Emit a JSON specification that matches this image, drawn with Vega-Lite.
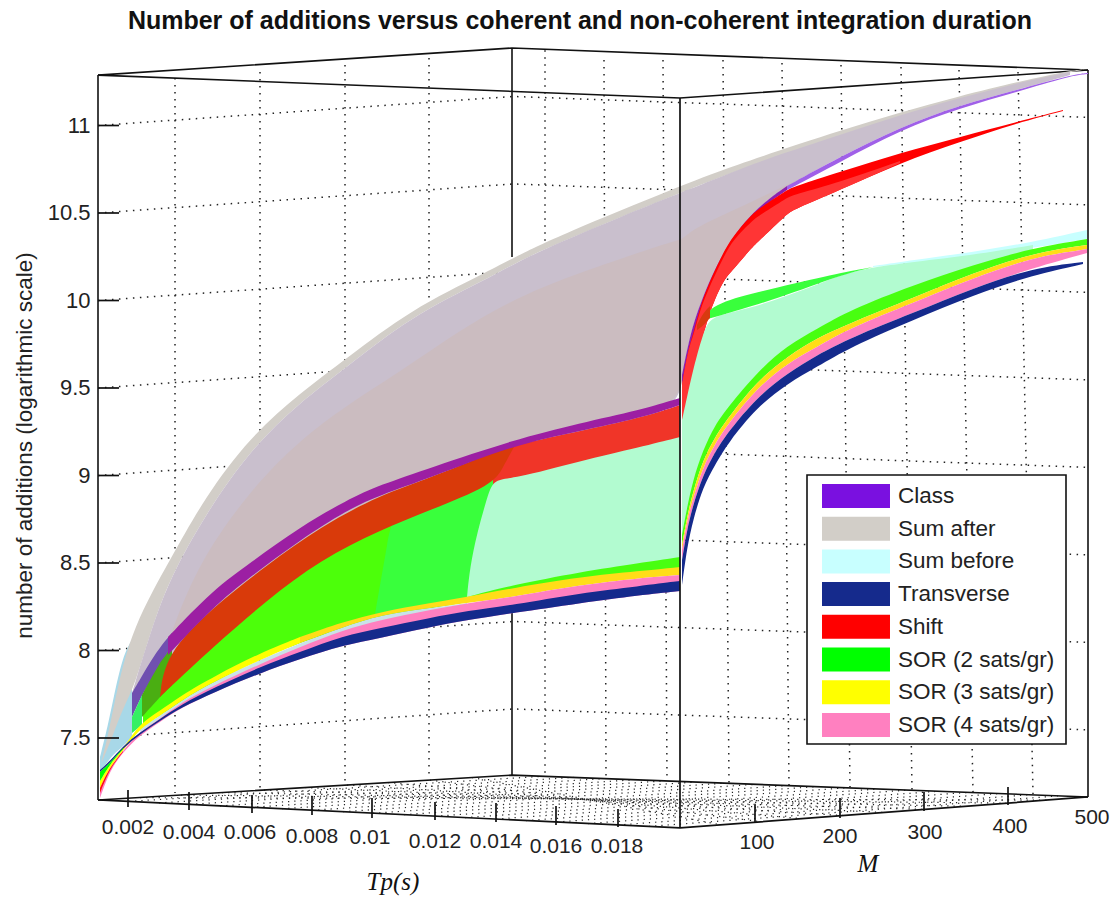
{"$schema":"https://vega.github.io/schema/vega-lite/v6.json","width":1114,"height":897,"autosize":"none","padding":0,"background":"white","config":{"view":{"stroke":null}},
"title":{"text":"Number of additions versus coherent and non-coherent integration duration","font":"Liberation Sans","fontSize":25,"fontWeight":"bold","color":"#111","anchor":"middle","frame":"group","offset":-34,"dx":23},
"datasets":{
"walls":[
{"id":"h7.5","x":98,"y":7.5},{"id":"h7.5","x":513,"y":7.666},{"id":"h7.5","x":1088,"y":7.546},
{"id":"h8","x":98,"y":8},{"id":"h8","x":513,"y":8.166},{"id":"h8","x":1088,"y":8.046},
{"id":"h8.5","x":98,"y":8.5},{"id":"h8.5","x":513,"y":8.666},{"id":"h8.5","x":1088,"y":8.546},
{"id":"h9","x":98,"y":9},{"id":"h9","x":513,"y":9.166},{"id":"h9","x":1088,"y":9.046},
{"id":"h9.5","x":98,"y":9.5},{"id":"h9.5","x":513,"y":9.666},{"id":"h9.5","x":1088,"y":9.546},
{"id":"h10","x":98,"y":10},{"id":"h10","x":513,"y":10.166},{"id":"h10","x":1088,"y":10.046},
{"id":"h10.5","x":98,"y":10.5},{"id":"h10.5","x":513,"y":10.666},{"id":"h10.5","x":1088,"y":10.546},
{"id":"h11","x":98,"y":11},{"id":"h11","x":513,"y":11.166},{"id":"h11","x":1088,"y":11.046},
{"id":"v1","x":175,"y":11.271},{"id":"v1","x":175,"y":7.185},{"id":"v2","x":260,"y":11.306},{"id":"v2","x":260,"y":7.203},{"id":"v3","x":345,"y":11.346},{"id":"v3","x":345,"y":7.243},{"id":"v4","x":429,"y":11.386},{"id":"v4","x":429,"y":7.283},
{"id":"v5","x":545,"y":11.43},{"id":"v5","x":545,"y":7.288},{"id":"v6","x":604,"y":11.374},{"id":"v6","x":606,"y":7.271},{"id":"v7","x":663,"y":11.374},{"id":"v7","x":667,"y":7.26},{"id":"v8","x":723,"y":11.374},{"id":"v8","x":729,"y":7.243},{"id":"v9","x":782,"y":11.357},{"id":"v9","x":789,"y":7.231},{"id":"v10","x":841,"y":11.346},{"id":"v10","x":850,"y":7.22},{"id":"v11","x":901,"y":11.334},{"id":"v11","x":912,"y":7.203},{"id":"v12","x":959,"y":11.317},{"id":"v12","x":973,"y":7.191},{"id":"v13","x":1018,"y":11.306},{"id":"v13","x":1033,"y":7.18}],
"floor":[
{"id":"t1","x":129,"y":7.138},{"id":"t1","x":543,"y":7.281},{"id":"t2","x":159,"y":7.129},{"id":"t2","x":574,"y":7.275},{"id":"t3","x":190,"y":7.121},{"id":"t3","x":604,"y":7.268},{"id":"t4","x":220,"y":7.112},{"id":"t4","x":634,"y":7.261},{"id":"t5","x":251,"y":7.104},{"id":"t5","x":665,"y":7.255},{"id":"t6","x":282,"y":7.096},{"id":"t6","x":695,"y":7.248},{"id":"t7","x":312,"y":7.087},{"id":"t7","x":725,"y":7.242},{"id":"t8","x":343,"y":7.079},{"id":"t8","x":755,"y":7.235},{"id":"t9","x":373,"y":7.07},{"id":"t9","x":786,"y":7.228},{"id":"t10","x":404,"y":7.062},{"id":"t10","x":816,"y":7.222},{"id":"t11","x":435,"y":7.053},{"id":"t11","x":846,"y":7.215},{"id":"t12","x":465,"y":7.045},{"id":"t12","x":877,"y":7.208},{"id":"t13","x":496,"y":7.037},{"id":"t13","x":907,"y":7.202},{"id":"t14","x":526,"y":7.028},{"id":"t14","x":937,"y":7.195},{"id":"t15","x":557,"y":7.02},{"id":"t15","x":968,"y":7.189},{"id":"t16","x":588,"y":7.011},{"id":"t16","x":998,"y":7.182},{"id":"t17","x":618,"y":7.003},{"id":"t17","x":1028,"y":7.175},{"id":"t18","x":649,"y":6.995},{"id":"t18","x":1058,"y":7.169},
{"id":"m2","x":721,"y":7.004},{"id":"m2","x":472,"y":7.274},{"id":"m4","x":762,"y":7.021},{"id":"m4","x":430,"y":7.259},{"id":"m6","x":802,"y":7.039},{"id":"m6","x":388,"y":7.245},{"id":"m8","x":843,"y":7.057},{"id":"m8","x":347,"y":7.231},{"id":"m10","x":884,"y":7.075},{"id":"m10","x":305,"y":7.217},{"id":"m12","x":925,"y":7.092},{"id":"m12","x":264,"y":7.202},{"id":"m14","x":966,"y":7.11},{"id":"m14","x":222,"y":7.188},{"id":"m16","x":1006,"y":7.128},{"id":"m16","x":181,"y":7.174},{"id":"m18","x":1047,"y":7.145},{"id":"m18","x":140,"y":7.159}],
"frameBack":[
{"id":"tf","x":98,"y":11.288},{"id":"tf","x":680,"y":11.157},{"id":"tf","x":1088,"y":11.317},
{"id":"tb","x":98,"y":11.288},{"id":"tb","x":512,"y":11.443},{"id":"tb","x":1088,"y":11.317},
{"id":"fb","x":98,"y":7.146},{"id":"fb","x":512,"y":7.288},{"id":"fb","x":1088,"y":7.163},
{"id":"l98","x":98,"y":11.288},{"id":"l98","x":98,"y":7.146},
{"id":"b1","x":512,"y":11.443},{"id":"b1","x":512,"y":10.248},{"id":"b2","x":512,"y":8.214},{"id":"b2","x":512,"y":7.288},
{"id":"r","x":1088,"y":11.317},{"id":"r","x":1088,"y":7.163}],
"frameFront":[
{"id":"ff","x":98,"y":7.146},{"id":"ff","x":680,"y":6.986},{"id":"ff","x":1088,"y":7.163},
{"id":"c","x":680,"y":11.157},{"id":"c","x":680,"y":6.986},
{"id":"y7.5","x":98,"y":7.5},{"id":"y7.5","x":119,"y":7.5},{"id":"y8","x":98,"y":8},{"id":"y8","x":119,"y":8},{"id":"y8.5","x":98,"y":8.5},{"id":"y8.5","x":119,"y":8.5},{"id":"y9","x":98,"y":9},{"id":"y9","x":119,"y":9},{"id":"y9.5","x":98,"y":9.5},{"id":"y9.5","x":119,"y":9.5},{"id":"y10","x":98,"y":10},{"id":"y10","x":119,"y":10},{"id":"y10.5","x":98,"y":10.5},{"id":"y10.5","x":119,"y":10.5},{"id":"y11","x":98,"y":11},{"id":"y11","x":119,"y":11},
{"id":"k1","x":128,"y":7.203},{"id":"k1","x":128,"y":7.105},{"id":"k2","x":189,"y":7.191},{"id":"k2","x":189,"y":7.088},{"id":"k3","x":252,"y":7.174},{"id":"k3","x":252,"y":7.071},{"id":"k4","x":312,"y":7.168},{"id":"k4","x":312,"y":7.06},{"id":"k5","x":372,"y":7.157},{"id":"k5","x":372,"y":7.043},{"id":"k6","x":435,"y":7.134},{"id":"k6","x":435,"y":7.031},{"id":"k7","x":496,"y":7.128},{"id":"k7","x":496,"y":7.02},{"id":"k8","x":556,"y":7.111},{"id":"k8","x":556,"y":7.003},{"id":"k9","x":618,"y":7.094},{"id":"k9","x":618,"y":6.991},
{"id":"k10","x":755,"y":7.117},{"id":"k10","x":755,"y":7.014},{"id":"k11","x":840,"y":7.157},{"id":"k11","x":840,"y":7.043},{"id":"k12","x":924,"y":7.191},{"id":"k12","x":924,"y":7.083},{"id":"k13","x":1008,"y":7.22},{"id":"k13","x":1008,"y":7.117}],
"bands":[
{"b":"Sum before (edge)","x":100,"y":7.391,"y2":7.306},{"b":"Sum before (edge)","x":108,"y":7.574,"y2":7.368},{"b":"Sum before (edge)","x":113,"y":7.717,"y2":7.403},{"b":"Sum before (edge)","x":123,"y":7.974,"y2":7.454},{"b":"Sum before (edge)","x":132,"y":8.06,"y2":7.5},
{"b":"Sum after","x":102,"y":7.374,"y2":7.363},{"b":"Sum after","x":108,"y":7.517,"y2":7.448},{"b":"Sum after","x":113,"y":7.66,"y2":7.517},{"b":"Sum after","x":123,"y":7.928,"y2":7.671},{"b":"Sum after","x":135,"y":8.134,"y2":7.803},{"b":"Sum after","x":152,"y":8.334,"y2":8.134},{"b":"Sum after","x":170,"y":8.517,"y2":8.414},{"b":"Sum after","x":205,"y":8.877,"y2":8.774},{"b":"Sum after","x":250,"y":9.22,"y2":9.146},{"b":"Sum after","x":300,"y":9.471,"y2":9.42},{"b":"Sum after","x":347,"y":9.671,"y2":9.62},{"b":"Sum after","x":410,"y":9.946,"y2":9.906},{"b":"Sum after","x":487,"y":10.163,"y2":10.123},{"b":"Sum after","x":513,"y":10.243,"y2":10.208},{"b":"Sum after","x":560,"y":10.374,"y2":10.334},{"b":"Sum after","x":680,"y":10.654,"y2":10.614},{"b":"Sum after","x":727,"y":10.757,"y2":10.723},{"b":"Sum after","x":840,"y":10.974,"y2":10.946},{"b":"Sum after","x":960,"y":11.174,"y2":11.157},{"b":"Sum after","x":1070,"y":11.317,"y2":11.306},{"b":"Sum after","x":1088,"y":11.323,"y2":11.323},
{"b":"Sum after (lilac)","x":132,"y":7.757,"y2":7.757},{"b":"Sum after (lilac)","x":152,"y":8.134,"y2":7.85},{"b":"Sum after (lilac)","x":170,"y":8.414,"y2":7.95},{"b":"Sum after (lilac)","x":205,"y":8.774,"y2":8.2},{"b":"Sum after (lilac)","x":250,"y":9.146,"y2":8.4},{"b":"Sum after (lilac)","x":300,"y":9.42,"y2":8.606},{"b":"Sum after (lilac)","x":347,"y":9.62,"y2":8.76},{"b":"Sum after (lilac)","x":410,"y":9.906,"y2":8.914},{"b":"Sum after (lilac)","x":487,"y":10.123,"y2":9.057},{"b":"Sum after (lilac)","x":513,"y":10.208,"y2":9.103},{"b":"Sum after (lilac)","x":560,"y":10.334,"y2":9.177},{"b":"Sum after (lilac)","x":620,"y":10.477,"y2":9.257},{"b":"Sum after (lilac)","x":680,"y":10.614,"y2":9.4},{"b":"Sum after (lilac)","x":682,"y":10.62,"y2":9.574},{"b":"Sum after (lilac)","x":690,"y":10.637,"y2":9.803},{"b":"Sum after (lilac)","x":700,"y":10.66,"y2":9.986},{"b":"Sum after (lilac)","x":723,"y":10.711,"y2":10.288},{"b":"Sum after (lilac)","x":753,"y":10.78,"y2":10.517},{"b":"Sum after (lilac)","x":787,"y":10.848,"y2":10.654},{"b":"Sum after (lilac)","x":840,"y":10.946,"y2":10.82},{"b":"Sum after (lilac)","x":900,"y":11.06,"y2":10.991},{"b":"Sum after (lilac)","x":960,"y":11.157,"y2":11.117},{"b":"Sum after (lilac)","x":1017,"y":11.243,"y2":11.203},{"b":"Sum after (lilac)","x":1070,"y":11.306,"y2":11.288},
{"b":"Sum after (rose)","x":170,"y":8.077,"y2":8.077},{"b":"Sum after (rose)","x":197,"y":8.488,"y2":8.154},{"b":"Sum after (rose)","x":250,"y":8.917,"y2":8.4},{"b":"Sum after (rose)","x":300,"y":9.203,"y2":8.606},{"b":"Sum after (rose)","x":347,"y":9.403,"y2":8.76},{"b":"Sum after (rose)","x":403,"y":9.603,"y2":8.903},{"b":"Sum after (rose)","x":493,"y":9.963,"y2":9.068},{"b":"Sum after (rose)","x":580,"y":10.163,"y2":9.2},{"b":"Sum after (rose)","x":680,"y":10.351,"y2":9.4},{"b":"Sum after (rose)","x":682,"y":10.351,"y2":9.574},{"b":"Sum after (rose)","x":690,"y":10.391,"y2":9.803},{"b":"Sum after (rose)","x":700,"y":10.426,"y2":9.986},{"b":"Sum after (rose)","x":723,"y":10.488,"y2":10.288},{"b":"Sum after (rose)","x":753,"y":10.568,"y2":10.517},{"b":"Sum after (rose)","x":787,"y":10.66,"y2":10.654},{"b":"Sum after (rose)","x":800,"y":10.7,"y2":10.7},
{"b":"Class over Sum","x":132,"y":7.757,"y2":7.62},{"b":"Class over Sum","x":142,"y":7.854,"y2":7.746},{"b":"Class over Sum","x":150,"y":7.934,"y2":7.82},{"b":"Class over Sum","x":163,"y":8.043,"y2":7.946},{"b":"Class over Sum","x":172,"y":8.1,"y2":8.0},
{"b":"SOR 2 over Sum","x":132,"y":7.62,"y2":7.528},{"b":"SOR 2 over Sum","x":142,"y":7.746,"y2":7.574},
{"b":"Shift over Sum","x":493,"y":9.134,"y2":8.9},{"b":"Shift over Sum","x":503,"y":9.157,"y2":8.913},{"b":"Shift over Sum","x":515,"y":9.174,"y2":8.93},{"b":"Shift over Sum","x":580,"y":9.254,"y2":9.033},{"b":"Shift over Sum","x":640,"y":9.328,"y2":9.113},{"b":"Shift over Sum","x":680,"y":9.403,"y2":9.17},
{"b":"SOR 2 main","x":143,"y":7.67,"y2":7.567},{"b":"SOR 2 main","x":165,"y":7.824,"y2":7.647},{"b":"SOR 2 main","x":213,"y":8.07,"y2":7.818},{"b":"SOR 2 main","x":267,"y":8.338,"y2":7.973},{"b":"SOR 2 main","x":320,"y":8.567,"y2":8.087},{"b":"SOR 2 main","x":393,"y":8.767,"y2":8.201},
{"b":"SOR 2 dark","x":142,"y":7.746,"y2":7.62},{"b":"SOR 2 dark","x":160,"y":7.934,"y2":7.734},{"b":"SOR 2 dark","x":165,"y":7.963,"y2":7.763},{"b":"SOR 2 dark","x":172,"y":8.03,"y2":7.8},
{"b":"SOR 2 light","x":375,"y":8.208,"y2":8.208},{"b":"SOR 2 light","x":380,"y":8.374,"y2":8.19},{"b":"SOR 2 light","x":387,"y":8.6,"y2":8.196},{"b":"SOR 2 light","x":393,"y":8.8,"y2":8.2},{"b":"SOR 2 light","x":430,"y":8.86,"y2":8.241},{"b":"SOR 2 light","x":467,"y":8.92,"y2":8.276},{"b":"SOR 2 light","x":493,"y":8.98,"y2":8.298},
{"b":"Sum before mint","x":467,"y":8.306,"y2":8.306},{"b":"Sum before mint","x":470,"y":8.477,"y2":8.281},{"b":"Sum before mint","x":477,"y":8.671,"y2":8.293},{"b":"Sum before mint","x":487,"y":8.87,"y2":8.31},{"b":"Sum before mint","x":493,"y":8.98,"y2":8.316},{"b":"Sum before mint","x":513,"y":8.98,"y2":8.344},{"b":"Sum before mint","x":580,"y":9.083,"y2":8.418},{"b":"Sum before mint","x":640,"y":9.163,"y2":8.47},{"b":"Sum before mint","x":680,"y":9.22,"y2":8.504},
{"b":"Shift over SOR","x":160,"y":7.734,"y2":7.734},{"b":"Shift over SOR","x":165,"y":7.974,"y2":7.763},{"b":"Shift over SOR","x":213,"y":8.248,"y2":8.02},{"b":"Shift over SOR","x":267,"y":8.488,"y2":8.288},{"b":"Shift over SOR","x":320,"y":8.706,"y2":8.517},{"b":"Shift over SOR","x":380,"y":8.888,"y2":8.688},{"b":"Shift over SOR","x":430,"y":8.986,"y2":8.803},{"b":"Shift over SOR","x":493,"y":9.134,"y2":8.946},{"b":"Shift over SOR","x":503,"y":9.157,"y2":9.048},{"b":"Shift over SOR","x":515,"y":9.174,"y2":9.174},
{"b":"Class (Tp face)","x":168,"y":8.077,"y2":7.974},{"b":"Class (Tp face)","x":213,"y":8.346,"y2":8.248},{"b":"Class (Tp face)","x":250,"y":8.5,"y2":8.42},{"b":"Class (Tp face)","x":300,"y":8.706,"y2":8.631},{"b":"Class (Tp face)","x":347,"y":8.86,"y2":8.803},{"b":"Class (Tp face)","x":380,"y":8.946,"y2":8.888},{"b":"Class (Tp face)","x":430,"y":9.043,"y2":8.986},{"b":"Class (Tp face)","x":513,"y":9.203,"y2":9.174},{"b":"Class (Tp face)","x":580,"y":9.3,"y2":9.254},{"b":"Class (Tp face)","x":640,"y":9.374,"y2":9.328},{"b":"Class (Tp face)","x":680,"y":9.443,"y2":9.403},
{"b":"SOR 2 sliver","x":467,"y":8.306,"y2":8.306},{"b":"SOR 2 sliver","x":513,"y":8.374,"y2":8.337},{"b":"SOR 2 sliver","x":580,"y":8.448,"y2":8.4},{"b":"SOR 2 sliver","x":640,"y":8.5,"y2":8.434},{"b":"SOR 2 sliver","x":680,"y":8.534,"y2":8.457},
{"b":"Pale","x":140,"y":7.557,"y2":7.534},{"b":"Pale","x":160,"y":7.626,"y2":7.608},{"b":"Pale","x":180,"y":7.711,"y2":7.688},{"b":"Pale","x":215,"y":7.826,"y2":7.791},{"b":"Pale","x":260,"y":7.946,"y2":7.906},{"b":"Pale","x":300,"y":8.043,"y2":7.991},{"b":"Pale","x":343,"y":8.134,"y2":8.083},{"b":"Pale","x":380,"y":8.203,"y2":8.128},{"b":"Pale","x":430,"y":8.243,"y2":8.186},{"b":"Pale","x":467,"y":8.271,"y2":8.226},
{"b":"SOR (3 sats/gr)","x":100,"y":7.254,"y2":7.214},{"b":"SOR (3 sats/gr)","x":110,"y":7.351,"y2":7.334},{"b":"SOR (3 sats/gr)","x":123,"y":7.437,"y2":7.426},{"b":"SOR (3 sats/gr)","x":140,"y":7.586,"y2":7.557},{"b":"SOR (3 sats/gr)","x":160,"y":7.654,"y2":7.626},{"b":"SOR (3 sats/gr)","x":180,"y":7.74,"y2":7.711},{"b":"SOR (3 sats/gr)","x":215,"y":7.854,"y2":7.826},{"b":"SOR (3 sats/gr)","x":260,"y":7.986,"y2":7.946},{"b":"SOR (3 sats/gr)","x":300,"y":8.077,"y2":8.043},
{"b":"SOR 3 gold","x":300,"y":8.077,"y2":8.043},{"b":"SOR 3 gold","x":343,"y":8.163,"y2":8.134},{"b":"SOR 3 gold","x":380,"y":8.22,"y2":8.203},{"b":"SOR 3 gold","x":430,"y":8.271,"y2":8.243},{"b":"SOR 3 gold","x":467,"y":8.306,"y2":8.271},{"b":"SOR 3 gold","x":513,"y":8.357,"y2":8.306},{"b":"SOR 3 gold","x":580,"y":8.42,"y2":8.374},{"b":"SOR 3 gold","x":640,"y":8.454,"y2":8.414},{"b":"SOR 3 gold","x":680,"y":8.477,"y2":8.431},
{"b":"SOR (4 sats/gr)","x":100,"y":7.214,"y2":7.157},{"b":"SOR (4 sats/gr)","x":110,"y":7.334,"y2":7.317},{"b":"SOR (4 sats/gr)","x":123,"y":7.426,"y2":7.42},{"b":"SOR (4 sats/gr)","x":140,"y":7.54,"y2":7.517},{"b":"SOR (4 sats/gr)","x":160,"y":7.608,"y2":7.591},{"b":"SOR (4 sats/gr)","x":180,"y":7.7,"y2":7.671},{"b":"SOR (4 sats/gr)","x":215,"y":7.803,"y2":7.763},{"b":"SOR (4 sats/gr)","x":260,"y":7.923,"y2":7.871},{"b":"SOR (4 sats/gr)","x":300,"y":8.02,"y2":7.951},{"b":"SOR (4 sats/gr)","x":343,"y":8.117,"y2":8.031},{"b":"SOR (4 sats/gr)","x":380,"y":8.174,"y2":8.071},{"b":"SOR (4 sats/gr)","x":430,"y":8.231,"y2":8.134},{"b":"SOR (4 sats/gr)","x":467,"y":8.271,"y2":8.174},{"b":"SOR (4 sats/gr)","x":513,"y":8.306,"y2":8.214},{"b":"SOR (4 sats/gr)","x":580,"y":8.374,"y2":8.271},{"b":"SOR (4 sats/gr)","x":640,"y":8.414,"y2":8.317},{"b":"SOR (4 sats/gr)","x":680,"y":8.431,"y2":8.34},
{"b":"Transverse","x":100,"y":7.317,"y2":7.306},{"b":"Transverse","x":110,"y":7.368,"y2":7.357},{"b":"Transverse","x":123,"y":7.454,"y2":7.443},{"b":"Transverse","x":140,"y":7.534,"y2":7.523},{"b":"Transverse","x":160,"y":7.608,"y2":7.597},{"b":"Transverse","x":180,"y":7.688,"y2":7.671},{"b":"Transverse","x":215,"y":7.791,"y2":7.763},{"b":"Transverse","x":260,"y":7.906,"y2":7.871},{"b":"Transverse","x":300,"y":7.991,"y2":7.951},{"b":"Transverse","x":343,"y":8.083,"y2":8.031},{"b":"Transverse","x":380,"y":8.128,"y2":8.071},{"b":"Transverse","x":430,"y":8.186,"y2":8.134},{"b":"Transverse","x":467,"y":8.226,"y2":8.174},{"b":"Transverse","x":513,"y":8.26,"y2":8.214},{"b":"Transverse","x":580,"y":8.328,"y2":8.271},{"b":"Transverse","x":640,"y":8.368,"y2":8.317},{"b":"Transverse","x":680,"y":8.397,"y2":8.34},
{"b":"SOR (2 sats/gr)","x":100,"y":7.306,"y2":7.254},{"b":"SOR (2 sats/gr)","x":110,"y":7.357,"y2":7.351},{"b":"SOR (2 sats/gr)","x":123,"y":7.443,"y2":7.437},
{"b":"Shift edge","x":100,"y":7.214,"y2":7.186},{"b":"Shift edge","x":110,"y":7.334,"y2":7.328},{"b":"Shift edge","x":123,"y":7.426,"y2":7.42},
{"b":"Sum before","x":873,"y":10.197,"y2":10.191},{"b":"Sum before","x":913,"y":10.231,"y2":10.214},{"b":"Sum before","x":973,"y":10.277,"y2":10.254},{"b":"Sum before","x":1033,"y":10.334,"y2":10.3},{"b":"Sum before","x":1087,"y":10.403,"y2":10.351},
{"b":"Class light","x":787,"y":10.654,"y2":10.631},{"b":"Class light","x":840,"y":10.82,"y2":10.791},{"b":"Class light","x":900,"y":10.991,"y2":10.974},{"b":"Class light","x":960,"y":11.117,"y2":11.1},{"b":"Class light","x":1017,"y":11.203,"y2":11.191},{"b":"Class light","x":1070,"y":11.288,"y2":11.283},{"b":"Class light","x":1088,"y":11.3,"y2":11.294},
{"b":"Class (M face)","x":682,"y":9.574,"y2":9.517},{"b":"Class (M face)","x":690,"y":9.803,"y2":9.706},{"b":"Class (M face)","x":700,"y":9.986,"y2":9.963},{"b":"Class (M face)","x":723,"y":10.288,"y2":10.271},{"b":"Class (M face)","x":753,"y":10.517,"y2":10.5},{"b":"Class (M face)","x":787,"y":10.654,"y2":10.631},
{"b":"Shift","x":682,"y":9.517,"y2":9.267},{"b":"Shift","x":688,"y":9.717,"y2":9.427},{"b":"Shift","x":693,"y":9.803,"y2":9.553},{"b":"Shift","x":700,"y":9.963,"y2":9.724},{"b":"Shift","x":708,"y":10.088,"y2":9.913},{"b":"Shift","x":723,"y":10.271,"y2":10.117},{"b":"Shift","x":733,"y":10.368,"y2":10.174},{"b":"Shift","x":753,"y":10.5,"y2":10.311},{"b":"Shift","x":760,"y":10.528,"y2":10.346},{"b":"Shift","x":787,"y":10.631,"y2":10.494},{"b":"Shift","x":793,"y":10.648,"y2":10.517},{"b":"Shift","x":840,"y":10.734,"y2":10.631},{"b":"Shift","x":900,"y":10.843,"y2":10.786},{"b":"Shift","x":960,"y":10.934,"y2":10.906},{"b":"Shift","x":1017,"y":11.02,"y2":11.014},{"b":"Shift","x":1063,"y":11.088,"y2":11.083},
{"b":"Shift light","x":682,"y":9.517,"y2":9.267},{"b":"Shift light","x":688,"y":9.717,"y2":9.427},{"b":"Shift light","x":693,"y":9.79,"y2":9.553},{"b":"Shift light","x":700,"y":9.946,"y2":9.724},{"b":"Shift light","x":708,"y":10.06,"y2":9.913},{"b":"Shift light","x":723,"y":10.243,"y2":10.117},{"b":"Shift light","x":733,"y":10.346,"y2":10.174},{"b":"Shift light","x":753,"y":10.46,"y2":10.311},{"b":"Shift light","x":760,"y":10.488,"y2":10.346},{"b":"Shift light","x":787,"y":10.586,"y2":10.494},{"b":"Shift light","x":793,"y":10.603,"y2":10.517},{"b":"Shift light","x":840,"y":10.677,"y2":10.631},{"b":"Shift light","x":900,"y":10.797,"y2":10.786},
{"b":"Sum before mint (M)","x":682,"y":9.317,"y2":8.63},{"b":"Sum before mint (M)","x":687,"y":9.448,"y2":8.784},{"b":"Sum before mint (M)","x":693,"y":9.603,"y2":8.944},{"b":"Sum before mint (M)","x":703,"y":9.814,"y2":9.116},{"b":"Sum before mint (M)","x":710,"y":9.9,"y2":9.23},{"b":"Sum before mint (M)","x":728,"y":9.928,"y2":9.361},{"b":"Sum before mint (M)","x":757,"y":9.968,"y2":9.561},{"b":"Sum before mint (M)","x":780,"y":10.014,"y2":9.681},{"b":"Sum before mint (M)","x":817,"y":10.088,"y2":9.807},{"b":"Sum before mint (M)","x":840,"y":10.146,"y2":9.876},{"b":"Sum before mint (M)","x":873,"y":10.191,"y2":9.967},{"b":"Sum before mint (M)","x":913,"y":10.22,"y2":10.058},{"b":"Sum before mint (M)","x":973,"y":10.26,"y2":10.173},{"b":"Sum before mint (M)","x":1033,"y":10.317,"y2":10.27},
{"b":"SOR 2 upper","x":703,"y":9.888,"y2":9.888},{"b":"SOR 2 upper","x":712,"y":9.986,"y2":9.9},{"b":"SOR 2 upper","x":780,"y":10.077,"y2":10.014},{"b":"SOR 2 upper","x":840,"y":10.157,"y2":10.146},{"b":"SOR 2 upper","x":873,"y":10.191,"y2":10.191},
{"b":"Shift over SOR (M)","x":697,"y":9.86,"y2":9.831},{"b":"Shift over SOR (M)","x":703,"y":9.928,"y2":9.854},{"b":"Shift over SOR (M)","x":710,"y":9.968,"y2":9.9},
{"b":"SOR 2 (M)","x":682,"y":8.66,"y2":8.603},{"b":"SOR 2 (M)","x":687,"y":8.814,"y2":8.763},{"b":"SOR 2 (M)","x":693,"y":8.974,"y2":8.906},{"b":"SOR 2 (M)","x":703,"y":9.146,"y2":9.088},{"b":"SOR 2 (M)","x":715,"y":9.288,"y2":9.22},{"b":"SOR 2 (M)","x":728,"y":9.391,"y2":9.328},{"b":"SOR 2 (M)","x":757,"y":9.591,"y2":9.54},{"b":"SOR 2 (M)","x":788,"y":9.746,"y2":9.683},{"b":"SOR 2 (M)","x":817,"y":9.837,"y2":9.786},{"b":"SOR 2 (M)","x":850,"y":9.946,"y2":9.871},{"b":"SOR 2 (M)","x":913,"y":10.088,"y2":10.014},{"b":"SOR 2 (M)","x":973,"y":10.203,"y2":10.157},{"b":"SOR 2 (M)","x":1033,"y":10.3,"y2":10.271},{"b":"SOR 2 (M)","x":1087,"y":10.351,"y2":10.317},
{"b":"SOR 3 gold (M)","x":682,"y":8.603,"y2":8.574},{"b":"SOR 3 gold (M)","x":687,"y":8.763,"y2":8.734},{"b":"SOR 3 gold (M)","x":693,"y":8.906,"y2":8.871},{"b":"SOR 3 gold (M)","x":703,"y":9.088,"y2":9.048},{"b":"SOR 3 gold (M)","x":715,"y":9.22,"y2":9.18},{"b":"SOR 3 gold (M)","x":728,"y":9.328,"y2":9.294},{"b":"SOR 3 gold (M)","x":757,"y":9.54,"y2":9.5},{"b":"SOR 3 gold (M)","x":788,"y":9.683,"y2":9.643},{"b":"SOR 3 gold (M)","x":817,"y":9.786,"y2":9.734},{"b":"SOR 3 gold (M)","x":850,"y":9.871,"y2":9.843},{"b":"SOR 3 gold (M)","x":913,"y":10.014,"y2":9.986},{"b":"SOR 3 gold (M)","x":973,"y":10.157,"y2":10.128},{"b":"SOR 3 gold (M)","x":1033,"y":10.271,"y2":10.248},{"b":"SOR 3 gold (M)","x":1087,"y":10.317,"y2":10.294},
{"b":"SOR 4 (M)","x":682,"y":8.574,"y2":8.517},{"b":"SOR 4 (M)","x":687,"y":8.734,"y2":8.688},{"b":"SOR 4 (M)","x":693,"y":8.871,"y2":8.831},{"b":"SOR 4 (M)","x":703,"y":9.048,"y2":9.003},{"b":"SOR 4 (M)","x":715,"y":9.18,"y2":9.134},{"b":"SOR 4 (M)","x":728,"y":9.294,"y2":9.248},{"b":"SOR 4 (M)","x":757,"y":9.5,"y2":9.448},{"b":"SOR 4 (M)","x":788,"y":9.643,"y2":9.586},{"b":"SOR 4 (M)","x":817,"y":9.734,"y2":9.688},{"b":"SOR 4 (M)","x":850,"y":9.843,"y2":9.786},{"b":"SOR 4 (M)","x":913,"y":9.986,"y2":9.928},{"b":"SOR 4 (M)","x":973,"y":10.128,"y2":10.071},{"b":"SOR 4 (M)","x":1033,"y":10.248,"y2":10.186},{"b":"SOR 4 (M)","x":1087,"y":10.294,"y2":10.271},
{"b":"Transverse (M)","x":682,"y":8.517,"y2":8.374},{"b":"Transverse (M)","x":687,"y":8.688,"y2":8.586},{"b":"Transverse (M)","x":693,"y":8.831,"y2":8.746},{"b":"Transverse (M)","x":703,"y":9.003,"y2":8.934},{"b":"Transverse (M)","x":715,"y":9.134,"y2":9.06},{"b":"Transverse (M)","x":728,"y":9.248,"y2":9.186},{"b":"Transverse (M)","x":757,"y":9.448,"y2":9.391},{"b":"Transverse (M)","x":788,"y":9.586,"y2":9.528},{"b":"Transverse (M)","x":817,"y":9.688,"y2":9.62},{"b":"Transverse (M)","x":850,"y":9.786,"y2":9.734},{"b":"Transverse (M)","x":913,"y":9.928,"y2":9.888},{"b":"Transverse (M)","x":973,"y":10.071,"y2":10.031},{"b":"Transverse (M)","x":1033,"y":10.186,"y2":10.146},{"b":"Transverse (M)","x":1083,"y":10.22,"y2":10.208}
],
"ticklabels":[
{"t":"0.002","x":128,"y":6.986},{"t":"0.004","x":189,"y":6.957},{"t":"0.006","x":250,"y":6.957},{"t":"0.008","x":312,"y":6.934},{"t":"0.01","x":370,"y":6.928},{"t":"0.012","x":435,"y":6.906},{"t":"0.014","x":496,"y":6.906},{"t":"0.016","x":556,"y":6.877},{"t":"0.018","x":617,"y":6.877},
{"t":"100","x":757,"y":6.9},{"t":"200","x":840,"y":6.934},{"t":"300","x":925,"y":6.957},{"t":"400","x":1010,"y":6.991},{"t":"500","x":1092,"y":7.043}],
"axisnames":[{"t":"Tp(s)","x":393,"y":6.677},{"t":"M","x":868,"y":6.78}],
"box":[{"x":807,"x2":1066,"y":9.003,"y2":7.466}]
},
"encoding":{"x":{"field":"x","type":"quantitative","scale":{"domain":[0,1114],"nice":false,"zero":false},"axis":null},"y":{"field":"y","type":"quantitative","scale":{"domain":[6.5914,11.7171],"nice":false,"zero":false},"axis":{"values":[7.5,8,8.5,9,9.5,10,10.5,11],"format":".2~f","offset":-98,"domain":false,"ticks":false,"grid":false,"labelFont":"Liberation Sans","labelFontSize":22,"labelColor":"#222","labelPadding":8,"title":"number of additions (logarithmic scale)","titleFont":"Liberation Sans","titleFontSize":22.5,"titleFontWeight":"normal","titleColor":"#222","titleX":-74,"titleY":445,"titleAngle":-90,"titleAlign":"center","titleBaseline":"middle"}}},
"layer":[
{"data":{"name":"floor"},"mark":{"type":"line","color":"#222","strokeWidth":1.2,"strokeDash":[1.2,5],"interpolate":"linear"},"encoding":{"detail":{"field":"id"}}},
{"data":{"name":"walls"},"mark":{"type":"line","color":"#222","strokeWidth":1.5,"strokeDash":[1.5,5.5],"interpolate":"linear"},"encoding":{"detail":{"field":"id"}}},
{"data":{"name":"frameBack"},"mark":{"type":"line","color":"#111","strokeWidth":1.6},"encoding":{"detail":{"field":"id"}}},
{"data":{"name":"bands"},"mark":{"type":"area","interpolate":"basis"},"encoding":{"y2":{"field":"y2"},"fill":{"field":"b","type":"nominal","scale":{
"domain":["Class","Sum after","Sum before","Transverse","Shift","SOR (2 sats/gr)","SOR (3 sats/gr)","SOR (4 sats/gr)","Sum before (edge)","Sum after (lilac)","Sum after (rose)","Class over Sum","SOR 2 over Sum","Shift over Sum","SOR 2 main","SOR 2 dark","SOR 2 light","Sum before mint","Shift over SOR","Class (Tp face)","SOR 2 sliver","Pale","SOR 3 gold","Shift edge","Class light","Class (M face)","Shift light","Sum before mint (M)","SOR 2 upper","Shift over SOR (M)","SOR 2 (M)","SOR 3 gold (M)","SOR 4 (M)","Transverse (M)"],
"range":["#7A10E0","#D2CEC8","#C8FFFF","#152A8C","#FF0000","#00FF00","#FFFF00","#FF80C0","#A8D8E8","#C9BFCD","#CBBCC0","#7050B0","#35F064","#F03528","#4CFF0A","#4AAE12","#39FF3C","#B2FBD0","#D93A0A","#9C1FA3","#48FF10","#C8E2E8","#FFDD18","#FF1010","#A060E8","#8C20B0","#FF3535","#B2FBD0","#39FF3C","#D83A10","#48FF10","#FFDD18","#FF80C0","#152A8C"]},
"legend":{"values":["Class","Sum after","Sum before","Transverse","Shift","SOR (2 sats/gr)","SOR (3 sats/gr)","SOR (4 sats/gr)"],"orient":"none","legendX":844,"legendY":484,"title":null,"symbolType":"M-2.833,-1H2.833V1H-2.833Z","symbolSize":576,"symbolStrokeWidth":0,"labelFont":"Liberation Sans","labelFontSize":22.5,"labelColor":"#222","labelOffset":30,"rowPadding":8.7,"labelLimit":0,"padding":0}}}},
{"data":{"name":"frameFront"},"mark":{"type":"line","color":"#111","strokeWidth":1.7},"encoding":{"detail":{"field":"id"}}},
{"data":{"name":"box"},"mark":{"type":"rect","fill":"white","stroke":"#111","strokeWidth":1.6},"encoding":{"x2":{"field":"x2"},"y2":{"field":"y2"}}},
{"data":{"name":"ticklabels"},"mark":{"type":"text","font":"Liberation Sans","fontSize":21,"color":"#222","align":"center","baseline":"middle"},"encoding":{"text":{"field":"t"}}},
{"data":{"name":"axisnames"},"mark":{"type":"text","font":"Liberation Serif","fontStyle":"italic","fontSize":25,"color":"#111","align":"center","baseline":"middle"},"encoding":{"text":{"field":"t"}}}
]}
